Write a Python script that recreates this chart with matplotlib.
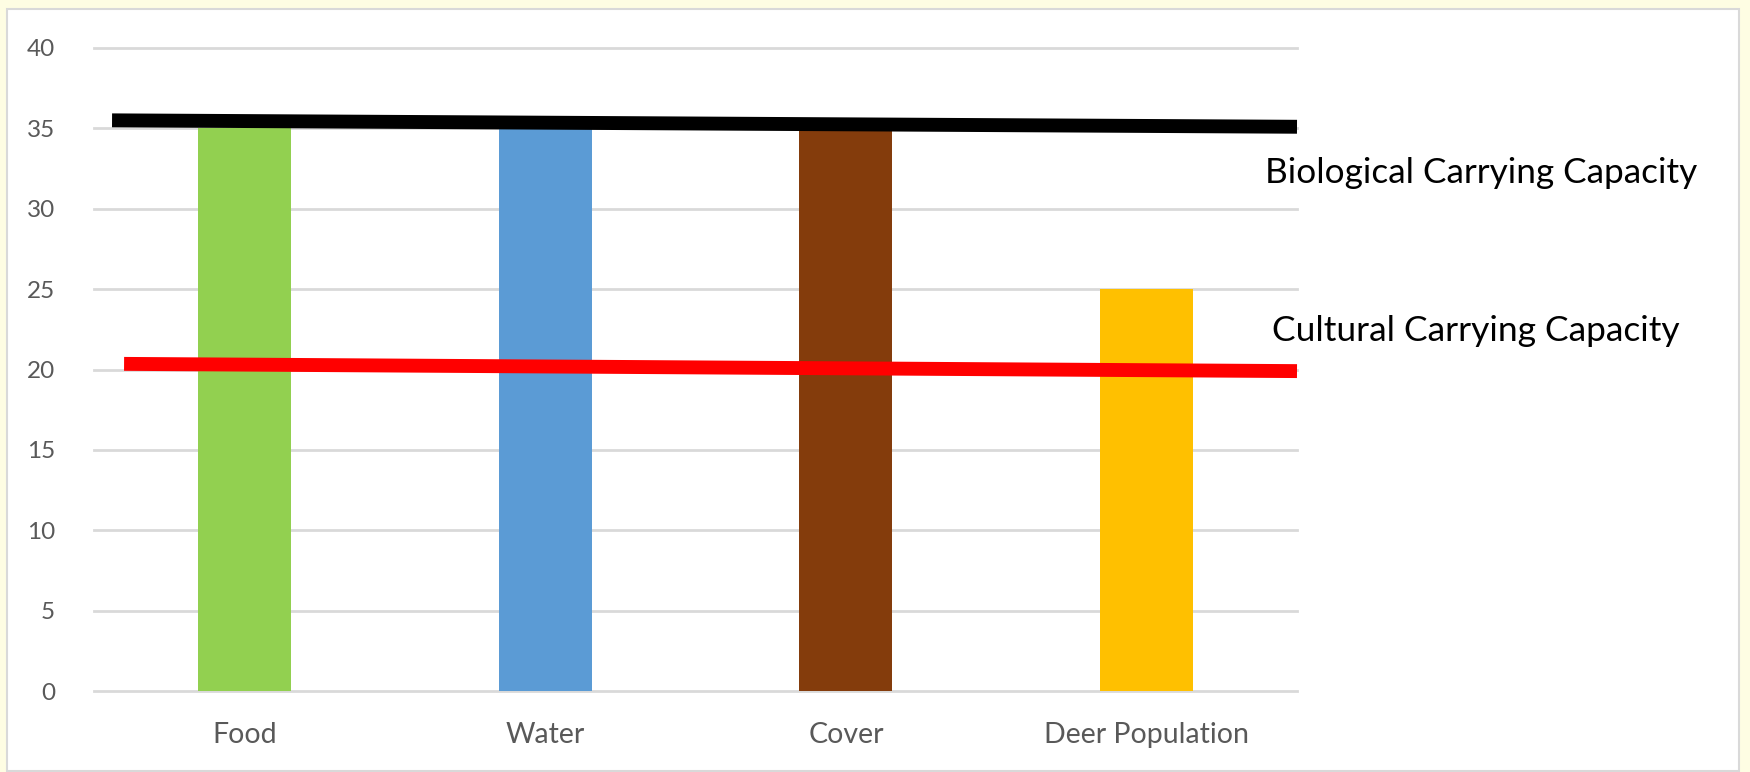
import matplotlib.pyplot as plt
from matplotlib.patches import Rectangle

# bar data
categories = ["Food", "Water", "Cover", "Deer Population"]
values = [35, 35, 35, 25]
bar_colors = ["#92D050", "#5B9BD5", "#843C0C", "#FFC000"]

# hand drawn capacity lines (category x, value)
bio_x = [-0.44, 3.5]
bio_y = [35.5, 35.1]
cult_x = [-0.40, 3.5]
cult_y = [20.35, 19.9]

yticks = [0, 5, 10, 15, 20, 25, 30, 35, 40]

fig = plt.figure(figsize=(17.5, 7.72), dpi=100)
fig.patch.set_facecolor("#FEFDE3")

# white chart panel with thin gray border
panel = Rectangle((7 / 1750, 1 / 772), (1739 - 7) / 1750, (763 - 1) / 772,
                  transform=fig.transFigure, facecolor="white",
                  edgecolor="#D9D9D9", linewidth=1.5, zorder=-10)
fig.patches.append(panel)

ax = fig.add_axes([94 / 1750, 81 / 772, (1297 - 94) / 1750, (691 - 48) / 772])
ax.set_facecolor("none")
ax.set_zorder(5)

x = range(len(categories))
ax.bar(x, values, width=0.31, color=bar_colors, zorder=2)

ax.plot(bio_x, bio_y, color="black", linewidth=10, solid_capstyle="butt",
        zorder=3, clip_on=False)
ax.plot(cult_x, cult_y, color="#FF0000", linewidth=10, solid_capstyle="butt",
        zorder=3, clip_on=False)

ax.set_xlim(-0.5, 3.5)
ax.set_ylim(0, 40)
ax.set_yticks(yticks)
ax.set_xticks(list(x))
ax.set_xticklabels(categories)

for yv in yticks:
    ax.axhline(yv, color="#D9D9D9", linewidth=2, zorder=1, clip_on=False)

for s in ax.spines.values():
    s.set_visible(False)
ax.tick_params(axis="both", length=0, labelcolor="#595959")
ax.tick_params(axis="y", pad=28, labelsize=17.5)
ax.tick_params(axis="x", pad=22, labelsize=20.5)
for lab in ax.get_xticklabels() + ax.get_yticklabels():
    lab.set_fontfamily("Lato")

fig.text(1265 / 1750, 1 - 173 / 772, "Biological Carrying Capacity",
         fontsize=25.3, family="Lato", color="black", va="center", ha="left",
         zorder=6)
fig.text(1272 / 1750, 1 - 331 / 772, "Cultural Carrying Capacity",
         fontsize=25.5, family="Lato", color="black", va="center", ha="left",
         zorder=6)

fig.savefig("out.png", dpi=100, facecolor=fig.get_facecolor())
